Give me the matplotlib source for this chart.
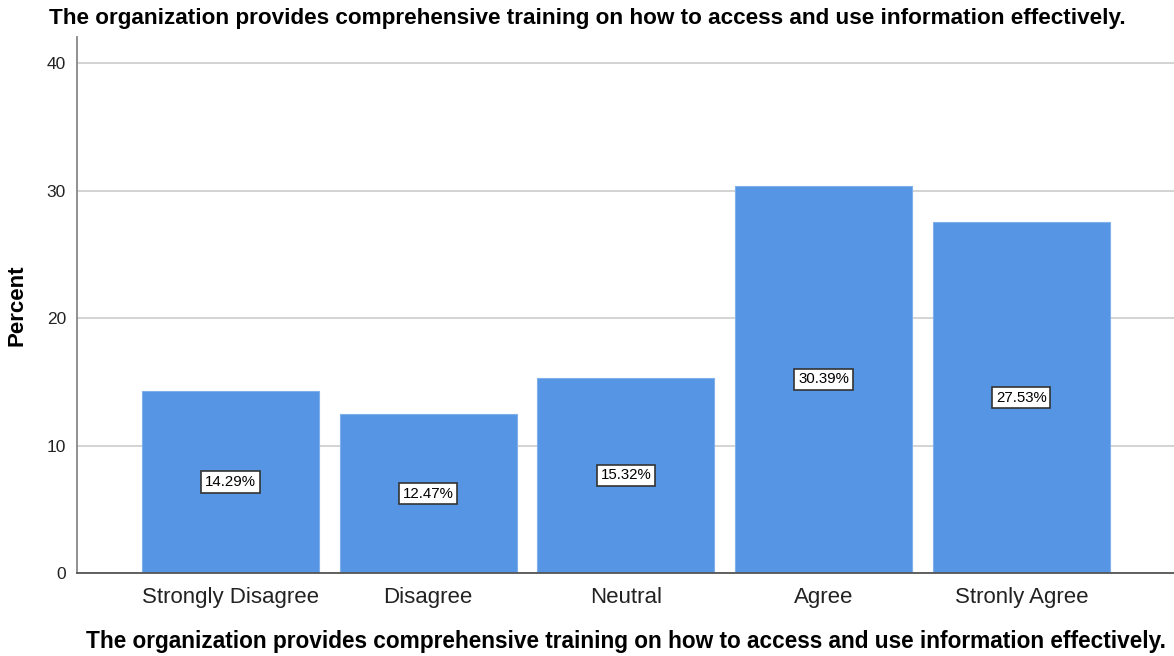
import matplotlib.pyplot as plt
import numpy as np

plt.rcParams["font.family"] = ["Liberation Sans", "DejaVu Sans"]

QUESTION = "The organization provides comprehensive training on how to access and use information effectively."
categories = ["Strongly Disagree", "Disagree", "Neutral", "Agree", "Stronly Agree"]
percents = [14.29, 12.47, 15.32, 30.39, 27.53]
y_ticks = [0, 10, 20, 30, 40]

BAR_COLOR = "#5595e3"

fig = plt.figure(figsize=(11.74, 6.56), dpi=100)
ax = fig.add_axes([0.0656, 0.1265, 0.9344, 0.8171])

x = np.arange(len(categories))
ax.bar(x, percents, width=0.895, color=BAR_COLOR, edgecolor="#7fb0ec",
       linewidth=0.8, zorder=2)

# value labels sit halfway up each bar in a small white box
for xi, v in zip(x, percents):
    ax.text(xi, v / 2, f"{v:.2f}%", ha="center", va="center", fontsize=10.8,
            color="black", zorder=3,
            bbox=dict(boxstyle="square,pad=0.25", fc="white", ec="#333333", lw=1.2))

ax.set_xlim(-0.776, 4.772)
ax.set_ylim(0, 42.05)
ax.set_xticks(x)
ax.set_xticklabels(categories, fontsize=16, color="#222222")
ax.set_yticks(y_ticks)
ax.set_yticklabels([str(t) for t in y_ticks], fontsize=12.5, color="#222222")
ax.tick_params(axis="x", length=0, pad=10)
ax.tick_params(axis="y", length=0, pad=8)

ax.yaxis.grid(True, color="#cccccc", linewidth=1.2, zorder=0)
ax.set_axisbelow(True)

for side in ("top", "right"):
    ax.spines[side].set_visible(False)
ax.spines["left"].set_color("#888888")
ax.spines["left"].set_linewidth(1.3)
ax.spines["bottom"].set_color("#555555")
ax.spines["bottom"].set_linewidth(1.3)

ax.set_ylabel("Percent", fontsize=16, fontweight="bold", labelpad=14)
ax.set_xlabel(QUESTION, fontsize=16.3, fontweight="bold", labelpad=16)
fig.text(0.5, 0.972, QUESTION, ha="center", va="center", fontsize=16.2,
         fontweight="bold")

fig.savefig("out.png", dpi=100)
